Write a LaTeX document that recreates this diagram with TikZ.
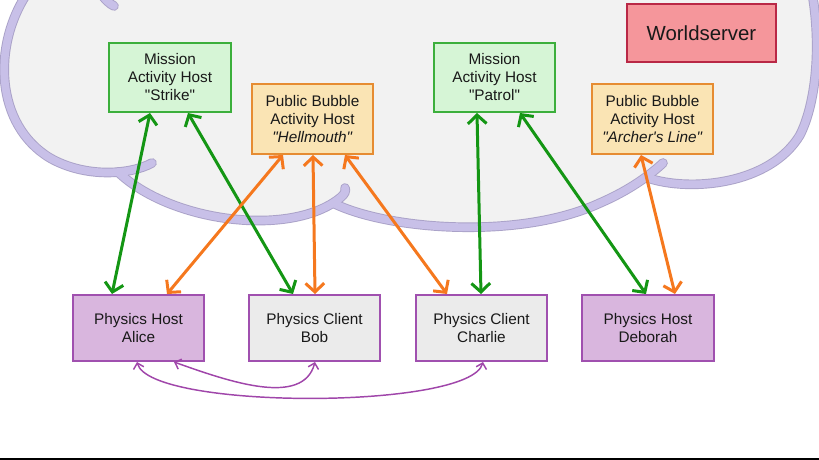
\documentclass[tikz,border=0pt]{standalone}
\usepackage{fontspec}
\setmainfont{Liberation Sans}[Ligatures=TeXOff]
\usetikzlibrary{arrows.meta,calc}
\definecolor{cloudfill}{RGB}{242,242,242}
\definecolor{cloudband}{RGB}{200,192,232}
\definecolor{cloudedge}{RGB}{170,162,200}
\definecolor{greenfill}{RGB}{214,245,214}
\definecolor{greenline}{RGB}{60,175,60}
\definecolor{orangefill}{RGB}{250,228,180}
\definecolor{orangeline}{RGB}{230,140,50}
\definecolor{wsfill}{RGB}{245,150,155}
\definecolor{wsline}{RGB}{185,40,70}
\definecolor{purplefill}{RGB}{217,182,222}
\definecolor{purpleline}{RGB}{160,80,175}
\definecolor{grayfill}{RGB}{235,235,235}
\definecolor{garrow}{RGB}{20,150,20}
\definecolor{oarrow}{RGB}{245,120,30}
\definecolor{parrow}{RGB}{160,70,170}
\definecolor{txt}{RGB}{25,25,25}
\newcommand{\dq}{\symbol{34}}
\newcommand{\sq}{\symbol{39}}
\begin{document}
\begin{tikzpicture}[x=0.75pt,y=-0.75pt,
  box/.style={draw, line width=1.5pt, inner sep=0pt, align=center, text=txt,
    font=\fontsize{11.5}{13.5}\selectfont},
  missionbox/.style={box, fill=greenfill, draw=greenline, minimum width=91pt, minimum height=51.75pt},
  bubblebox/.style={box, fill=orangefill, draw=orangeline, minimum width=90.75pt, minimum height=52.5pt},
  hostbox/.style={box, fill=purplefill, draw=purpleline, minimum width=98.25pt, minimum height=49.5pt},
  clientbox/.style={box, fill=grayfill, draw=purpleline, minimum width=98.25pt, minimum height=49.5pt},
  wsbox/.style={box, fill=wsfill, draw=wsline, minimum width=111.75pt, minimum height=43.5pt,
    font=\fontsize{15.3}{18}\selectfont},
  garr/.style={draw=garrow, line width=2.25pt,
    {Straight Barb[length=6.5pt,width=14pt]}-{Straight Barb[length=6.5pt,width=14pt]}},
  oarr/.style={draw=oarrow, line width=2.25pt,
    {Straight Barb[length=6.5pt,width=14pt]}-{Straight Barb[length=6.5pt,width=14pt]}},
  parr/.style={draw=parrow, line width=1.1pt,
    {Straight Barb[length=4pt,width=8pt]}-{Straight Barb[length=4pt,width=8pt]}},
  bandedge/.style={draw=cloudedge, line width=7.2pt, line cap=round},
  band/.style={draw=cloudband, line width=5.8pt, line cap=round}
]
\useasboundingbox (0,0) rectangle (819,460);

% cloud fill
\fill[cloudfill] (28,-8) .. controls (-8,45) and (-5,125) .. (50,158)
  .. controls (72,171) and (100,174) .. (118,172)
  .. controls (170,222) and (290,238) .. (345,192)
  -- (335,204)
  .. controls (390,230) and (520,240) .. (600,203)
  .. controls (620,195) and (635,185) .. (648,178)
  .. controls (690,192) and (770,185) .. (800,135)
  .. controls (815,105) and (822,50) .. (812,-8)
  -- (812,-20) -- (28,-20) -- cycle;

% cloud outline lobes
\foreach \s in {bandedge,band}{
  \draw[\s] (28,-8) .. controls (-8,45) and (-5,125) .. (50,158)
     .. controls (85,178) and (130,175) .. (152,163);
  \draw[\s] (118,172) .. controls (170,222) and (290,238) .. (340,198)
     .. controls (345,194) and (346,191) .. (345,188);
  \draw[\s] (335,204) .. controls (390,230) and (520,240) .. (600,203)
     .. controls (630,190) and (650,175) .. (663,163);
  \draw[\s] (648,178) .. controls (690,192) and (770,185) .. (800,135)
     .. controls (815,105) and (822,50) .. (812,-8);
  \draw[\s] (100,-8) .. controls (105,0) and (110,4) .. (114,6);
}

% nodes
\node[missionbox] (strike) at (170,77.5) {Mission\\Activity Host\\\dq Strike\dq};
\node[bubblebox] (hell) at (312.5,119) {Public Bubble\\Activity Host\\\textit{\dq Hellmouth\dq}};
\node[missionbox] (patrol) at (494.5,77.5) {Mission\\Activity Host\\\dq Patrol\dq};
\node[bubblebox] (archer) at (652.5,119) {Public Bubble\\Activity Host\\\textit{\dq Archer\sq s Line\dq}};
\node[wsbox] (ws) at (701.5,33) {Worldserver};

\node[hostbox] (alice) at (138.5,328) {Physics Host\\Alice};
\node[clientbox] (bob) at (314.5,328) {Physics Client\\Bob};
\node[clientbox] (charlie) at (481.5,328) {Physics Client\\Charlie};
\node[hostbox, minimum width=99pt] (deborah) at (648,328) {Physics Host\\Deborah};

% green connectors
\draw[garr] ($(strike.south)+(-20,0)$) -- ($(alice.north)+(-26.5,0)$);
\draw[garr] ($(strike.south)+(18,0)$) -- ($(bob.north)+(-21.5,0)$);
\draw[garr] ($(patrol.south)+(-17.5,0)$) -- ($(charlie.north)+(-0.5,0)$);
\draw[garr] ($(patrol.south)+(25.5,0)$) -- ($(deborah.north)+(-2,0)$);

% orange connectors
\draw[oarr] ($(hell.south)+(-29.5,0)$) -- ($(alice.north)+(28.5,0)$);
\draw[oarr] ($(hell.south)+(0.5,0)$) -- ($(bob.north)+(0.5,0)$);
\draw[oarr] ($(hell.south)+(32.5,0)$) -- ($(charlie.north)+(-34.5,0)$);
\draw[oarr] ($(archer.south)+(-11.5,0)$) -- ($(deborah.north)+(27,0)$);

% purple connectors
\draw[parr] ($(alice.south)+(-1.5,0)$) .. controls +(13,48) and +(-13,48) .. ($(charlie.south)+(1.5,0)$);
\draw[parr] ($(alice.south)+(35.5,0)$) .. controls +(56,20) and +(-12,45) .. ($(bob.south)+(0.5,0)$);

% bottom bar
\fill[black] (0,457.5) rectangle (819,460);
\end{tikzpicture}
\end{document}
